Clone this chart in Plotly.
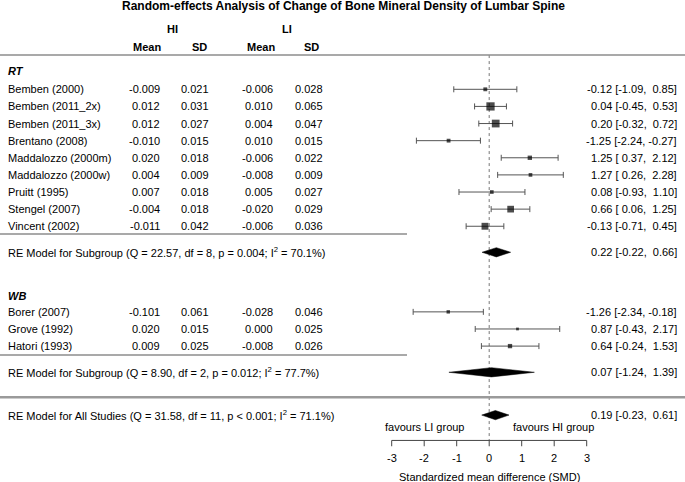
import plotly.graph_objects as go

# ---------------- data ----------------
rt_studies = ["Bemben (2000)", "Bemben (2011_2x)", "Bemben (2011_3x)", "Brentano (2008)",
              "Maddalozzo (2000m)", "Maddalozzo (2000w)", "Pruitt (1995)", "Stengel (2007)",
              "Vincent (2002)"]
rt_hi_mean = [-0.009, 0.012, 0.012, -0.010, 0.020, 0.004, 0.007, -0.004, -0.011]
rt_hi_sd = [0.021, 0.031, 0.027, 0.015, 0.018, 0.009, 0.018, 0.018, 0.042]
rt_li_mean = [-0.006, 0.010, 0.004, 0.010, -0.006, -0.008, 0.005, -0.020, -0.006]
rt_li_sd = [0.028, 0.065, 0.047, 0.015, 0.022, 0.009, 0.027, 0.029, 0.036]
rt_est = [-0.12, 0.04, 0.20, -1.25, 1.25, 1.27, 0.08, 0.66, -0.13]
rt_lb = [-1.09, -0.45, -0.32, -2.24, 0.37, 0.26, -0.93, 0.06, -0.71]
rt_ub = [0.85, 0.53, 0.72, -0.27, 2.12, 2.28, 1.10, 1.25, 0.45]
rt_re = (0.22, -0.22, 0.66)
rt_stats = (22.57, 8, "p = 0.004", 70.1)

wb_studies = ["Borer (2007)", "Grove (1992)", "Hatori (1993)"]
wb_hi_mean = [-0.101, 0.020, 0.009]
wb_hi_sd = [0.061, 0.015, 0.025]
wb_li_mean = [-0.028, 0.000, -0.008]
wb_li_sd = [0.046, 0.025, 0.026]
wb_est = [-1.26, 0.87, 0.64]
wb_lb = [-2.34, -0.43, -0.24]
wb_ub = [-0.18, 2.17, 1.53]
wb_re = (0.07, -1.24, 1.39)
wb_stats = (8.90, 2, "p = 0.012", 77.7)

all_re = (0.19, -0.23, 0.61)
all_stats = (31.58, 11, "p < 0.001", 71.1)

x_ticks = [-3, -2, -1, 0, 1, 2, 3]
title = "Random-effects Analysis of Change of Bone Mineral Density of Lumbar Spine"
x_label = "Standardized mean difference (SMD)"

# ---------------- layout geometry ----------------
W, H = 685, 482
PX0, PXU = 489.2, 32.5          # pixel of SMD 0, pixels per SMD unit
ROW0, ROWPX = 89.3, 17.12       # pixel of first row, pixels per row
xr = [(0 - PX0) / PXU, (W - PX0) / PXU]
yr = [(H - ROW0) / ROWPX, (0 - ROW0) / ROWPX]


def px2x(p):
    return (p - PX0) / PXU


FONT = "Liberation Sans, Arial, Helvetica, sans-serif"
NB = "\u00a0"

rt_rows = list(range(len(rt_studies)))
wb_rows = [13, 14, 15]
rt_re_row, wb_re_row, all_re_row = 9.52, 16.53, 19.03

fig = go.Figure()
ann = []


def txt(x, y, s, anchor="left", size=11, bold=False, italic=False):
    if bold:
        s = "<b>" + s + "</b>"
    if italic:
        s = "<i>" + s + "</i>"
    ann.append(dict(x=x, y=y, xref="x", yref="y", text=s, showarrow=False,
                    xanchor=anchor, yanchor="middle",
                    font=dict(family=FONT, size=size, color="#000")))


def ci_str(e, l, u):
    f = lambda v: f"{v:5.2f}".replace(" ", NB)
    return f"{f(e)} [{f(l)},{NB}{f(u)}]"


def hline(x0, x1, y, color, width, dash="solid"):
    fig.add_trace(go.Scatter(x=[x0, x1], y=[y, y], mode="lines",
                             line=dict(color=color, width=width, dash=dash),
                             hoverinfo="skip", showlegend=False))


# marker sizes from inverse standard errors (metafor-style scaling)
all_lb = rt_lb + wb_lb
all_ub = rt_ub + wb_ub
inv_se = [3.92 / (u - l) for l, u in zip(all_lb, all_ub)]
tot = sum(inv_se)
ps = [w / tot for w in inv_se]
mn, mx = min(ps), max(ps)
psize = [(p - mn) / (mx - mn) + 0.5 for p in ps]
sizes = [5.5 * p for p in psize]

# reference line at 0
fig.add_trace(go.Scatter(x=[0, 0], y=[-2.0, 20.51], mode="lines",
                         line=dict(color="#777", width=1, dash="dot"),
                         hoverinfo="skip", showlegend=False))

# separators
hline(xr[0], xr[1], -2.0, "#8c8c8c", 1.6)
hline(xr[0], px2x(407), 8.45, "#8c8c8c", 1.4)
hline(xr[0], px2x(407), 15.52, "#8c8c8c", 1.4)
hline(xr[0], xr[1], 17.99, "#9a9a9a", 2.4)

# study estimates with CIs
est = rt_est + wb_est
rows = rt_rows + wb_rows
fig.add_trace(go.Scatter(
    x=est, y=rows, mode="markers",
    marker=dict(symbol="square", color="#000", size=sizes, line=dict(width=0)),
    error_x=dict(type="data", symmetric=False,
                 array=[u - e for u, e in zip(all_ub, est)],
                 arrayminus=[e - l for e, l in zip(est, all_lb)],
                 color="#555", thickness=1, width=3),
    hoverinfo="skip", showlegend=False))

# summary diamonds
for (e, l, u), r in [(rt_re, rt_re_row), (wb_re, wb_re_row), (all_re, all_re_row)]:
    h = 0.27
    fig.add_trace(go.Scatter(x=[l, e, u, e, l], y=[r, r - h, r, r + h, r],
                             mode="lines", fill="toself", fillcolor="#000",
                             line=dict(color="#000", width=0.5),
                             hoverinfo="skip", showlegend=False))

# x axis
fig.add_trace(go.Scatter(x=[x_ticks[0], x_ticks[-1]], y=[20.51, 20.51], mode="lines",
                         line=dict(color="#444", width=1), hoverinfo="skip", showlegend=False))
tx, ty = [], []
for t in x_ticks:
    tx += [t, t, None]
    ty += [20.51, 20.85, None]
fig.add_trace(go.Scatter(x=tx, y=ty, mode="lines", line=dict(color="#444", width=1),
                         hoverinfo="skip", showlegend=False))
for t in x_ticks:
    txt(t, 21.54, str(t), anchor="center")
txt(0, 22.62, x_label, anchor="center")
txt(px2x(467), 19.75, "favours LI group", anchor="right")
txt(px2x(511), 19.75, "favours HI group", anchor="left")

# headers
txt(px2x(343), -4.84, title, anchor="center", size=12, bold=True)
txt(px2x(172.5), -3.52, "HI", anchor="center", bold=True)
txt(px2x(287), -3.52, "LI", anchor="center", bold=True)
for cx, s in [(146.5, "Mean"), (199, "SD"), (261, "Mean"), (311, "SD")]:
    txt(px2x(cx), -2.47, s, anchor="center", bold=True)

# columns
X_NAME = px2x(6)
COLS = [px2x(161.5), px2x(211), px2x(275), px2x(325)]
X_RIGHT = px2x(678.5)

txt(X_NAME, -1.07, "RT", bold=True, italic=True)
txt(X_NAME, 12.07, "WB", bold=True, italic=True)


def study_block(names, hm, hs, lm, ls, e, l, u, rws):
    for i, r in enumerate(rws):
        txt(X_NAME, r, names[i])
        for cx, v in zip(COLS, [hm[i], hs[i], lm[i], ls[i]]):
            txt(cx, r, f"{v:.3f}", anchor="right")
        txt(X_RIGHT, r, ci_str(e[i], l[i], u[i]), anchor="right")


study_block(rt_studies, rt_hi_mean, rt_hi_sd, rt_li_mean, rt_li_sd, rt_est, rt_lb, rt_ub, rt_rows)
study_block(wb_studies, wb_hi_mean, wb_hi_sd, wb_li_mean, wb_li_sd, wb_est, wb_lb, wb_ub, wb_rows)


def re_label(kind, st):
    q, df, p, i2 = st
    return f"RE Model for {kind} (Q = {q:.2f}, df = {df}, {p}; I<sup>2</sup> = {i2:.1f}%)"


txt(X_NAME, rt_re_row, re_label("Subgroup", rt_stats))
txt(X_NAME, wb_re_row, re_label("Subgroup", wb_stats))
txt(X_NAME, all_re_row, re_label("All Studies", all_stats))
txt(X_RIGHT, rt_re_row, ci_str(*rt_re), anchor="right")
txt(X_RIGHT, wb_re_row, ci_str(*wb_re), anchor="right")
txt(X_RIGHT, all_re_row, ci_str(*all_re), anchor="right")

fig.update_layout(
    width=W, height=H, margin=dict(l=0, r=0, t=0, b=0),
    paper_bgcolor="white", plot_bgcolor="white",
    xaxis=dict(range=xr, visible=False, fixedrange=True),
    yaxis=dict(range=yr, visible=False, fixedrange=True),
    annotations=ann, showlegend=False,
)
fig.write_html("out.html", config={"displayModeBar": False},
               post_script="document.body.style.margin='0';document.body.style.overflow='hidden';")
